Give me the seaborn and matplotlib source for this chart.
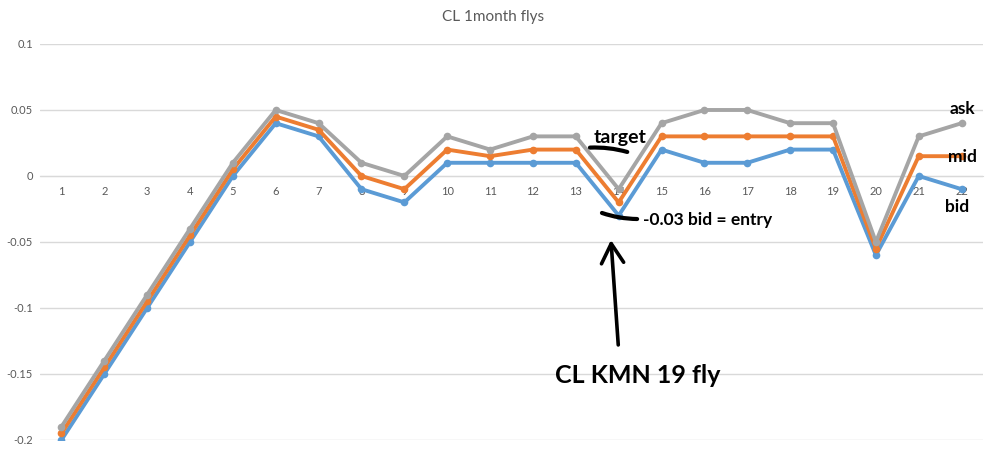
import pandas as pd
import matplotlib.pyplot as plt
import seaborn as sns

sns.set_style("white")
plt.rcParams['font.family'] = ['Lato', 'DejaVu Sans']

tenors = list(range(1, 23))
bid = [-0.2, -0.15, -0.1, -0.05, 0.0, 0.04, 0.03, -0.01, -0.02, 0.01, 0.01,
       0.01, 0.01, -0.03, 0.02, 0.01, 0.01, 0.02, 0.02, -0.06, 0.0, -0.01]
mid = [-0.195, -0.145, -0.095, -0.045, 0.005, 0.045, 0.035, 0.0, -0.01, 0.02, 0.015,
       0.02, 0.02, -0.02, 0.03, 0.03, 0.03, 0.03, 0.03, -0.055, 0.015, 0.015]
ask = [-0.19, -0.14, -0.09, -0.04, 0.01, 0.05, 0.04, 0.01, 0.0, 0.03, 0.02,
       0.03, 0.03, -0.01, 0.04, 0.05, 0.05, 0.04, 0.04, -0.05, 0.03, 0.04]
yticks = [-0.2, -0.15, -0.1, -0.05, 0, 0.05, 0.1]
ytick_labels = ["-0.2", "-0.15", "-0.1", "-0.05", "0", "0.05", "0.1"]

df = pd.DataFrame({
    'pos': list(range(len(tenors))) * 3,
    'value': bid + mid + ask,
    'series': ['bid'] * len(bid) + ['mid'] * len(mid) + ['ask'] * len(ask),
})
palette = {'bid': '#5B9BD5', 'mid': '#ED7D31', 'ask': '#A5A5A5'}

fig = plt.figure(figsize=(9.87, 4.63), dpi=100)
ax = fig.add_axes([0.0405, 0.0497, 0.9555, 0.8553])

sns.lineplot(data=df, x='pos', y='value', hue='series', palette=palette,
             marker='o', markersize=5.5, markeredgewidth=0, linewidth=2.8,
             legend=False, ax=ax)

ax.set_xlim(-0.5, len(tenors) - 0.5)
ax.set_ylim(-0.2, 0.1)
ax.set_yticks(yticks)
ax.set_yticklabels(ytick_labels)
ax.set_xticks(range(len(tenors)))
ax.set_xticklabels([str(t) for t in tenors])
ax.grid(axis='y', color='#D9D9D9', linewidth=1)
ax.set_axisbelow(True)
for s in ['top', 'right', 'left']:
    ax.spines[s].set_visible(False)
ax.spines['bottom'].set_position(('data', 0))
ax.spines['bottom'].set_color('#D9D9D9')
ax.spines['bottom'].set_zorder(0)
ax.tick_params(axis='x', length=0, pad=7, labelsize=8, labelcolor='#595959')
ax.tick_params(axis='y', length=0, pad=5, labelsize=8, labelcolor='#595959')
ax.set_xlabel('')
ax.set_ylabel('')

fig.text(0.5, 0.963, "CL 1month flys", ha='center', va='center',
         fontsize=11, color='#595959')

# hand-written notes
bold = dict(fontweight='bold', color='black', fontsize=12.5, va='center', ha='left')
ax.text(12.42, 0.0295, "target", **dict(bold, fontsize=14))
ax.text(13.57, -0.0333, "-0.03 bid = entry", **bold)
ax.text(20.72, 0.0505, "ask", **bold)
ax.text(20.68, 0.0144, "mid", **bold)
ax.text(20.62, -0.0235, "bid", **bold)
ax.text(11.52, -0.1508, "CL KMN 19 fly", fontweight='bold', color='black',
        fontsize=18, va='center', ha='left')

stroke = dict(arrowstyle='-', color='black', lw=3, capstyle='round',
              shrinkA=0, shrinkB=0)
ax.annotate('', xy=(13.2, 0.0182), xytext=(12.33, 0.0215),
            arrowprops=dict(connectionstyle='arc3,rad=-0.08', **stroke))
ax.annotate('', xy=(13.43, -0.0326), xytext=(12.61, -0.028),
            arrowprops=dict(connectionstyle='arc3,rad=0.08', **stroke))
ax.annotate('', xy=(12.82, -0.0485), xytext=(12.99, -0.128),
            arrowprops=dict(arrowstyle='->,head_length=1.4,head_width=0.8',
                            color='black', lw=2.6, shrinkA=0, shrinkB=0))

fig.savefig("out.png", dpi=100)
